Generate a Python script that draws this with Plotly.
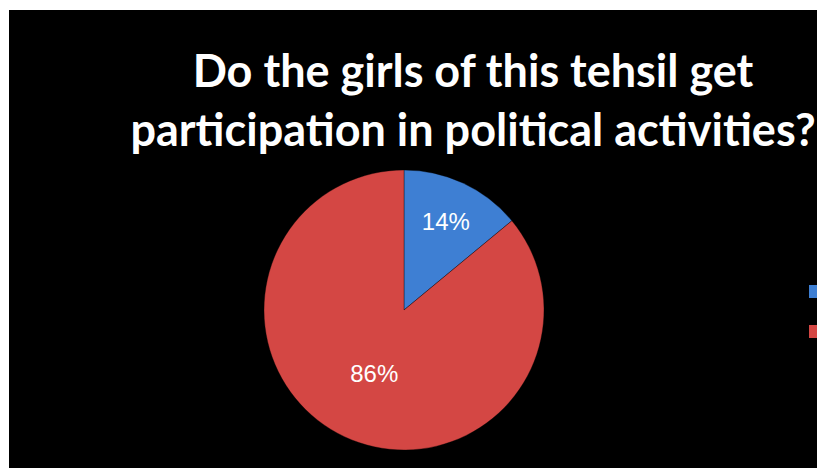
import plotly.graph_objects as go

categories = ["Yes", "No"]
values = [14, 86]
colors = ["#3e7fd3", "#d44744"]

W, H = 817, 468
ML, MT = 9, 10

# page pixel -> paper fraction helpers (paper area spans x 9..817, y 10..468 on page)
def px_x(x):
    return (x - ML) / (W - ML)

def px_y(y):
    return (H - y) / (H - MT)

cx, cy, r = 404, 310, 140

fig = go.Figure(go.Pie(
    labels=categories,
    values=values,
    sort=False,
    direction="clockwise",
    rotation=0,
    marker=dict(colors=colors, line=dict(color="rgba(0,0,0,0.35)", width=1)),
    textinfo="percent",
    texttemplate="%{percent:.0%}",
    textposition="inside",
    insidetextorientation="horizontal",
    textfont=dict(family="Liberation Sans", size=24, color="white"),
    domain=dict(x=[px_x(cx - r), px_x(cx + r)], y=[px_y(cy + r), px_y(cy - r)]),
    showlegend=False,
    hoverinfo="label+percent",
))

fig.add_shape(type="rect", xref="paper", yref="paper", x0=0, x1=1, y0=0, y1=1,
              fillcolor="black", line=dict(width=0), layer="below")
# legend swatches (cut off at the right edge as in the original)
fig.add_shape(type="rect", xref="paper", yref="paper",
              x0=px_x(809), x1=px_x(818), y0=px_y(298), y1=px_y(285),
              fillcolor=colors[0], line=dict(width=0))
fig.add_shape(type="rect", xref="paper", yref="paper",
              x0=px_x(809), x1=px_x(818), y0=px_y(338), y1=px_y(325),
              fillcolor=colors[1], line=dict(width=0))

fig.update_layout(
    width=W, height=H,
    margin=dict(l=ML, r=0, t=MT, b=0),
    paper_bgcolor="white",
    title=dict(
        text="Do the girls of this tehsil get<br>participation in political activities?",
        x=px_x(473), xanchor="center", xref="paper",
        y=1 - 87 / H, yanchor="top",
        font=dict(family="Lato", size=45, color="white", weight="bold"),
    ),
)

fig.write_html(
    "out.html",
    config={"displayModeBar": False},
    post_script="document.body.style.margin='0';document.body.style.overflow='hidden';",
)
